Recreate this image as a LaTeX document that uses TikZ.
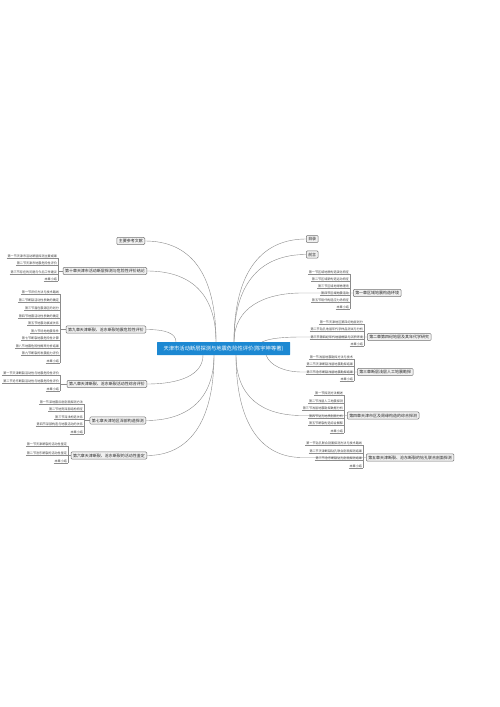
\documentclass[tikz,border=0pt]{standalone}
\usepackage{fontspec}
\newfontfamily\cjk{Noto Sans CJK SC}
\definecolor{rootblue}{RGB}{28,136,210}
\tikzset{
 conn/.style={draw=black!45, line width=0.4bp},
 branch/.style={draw=black!55, fill=black!6, rounded corners=1bp, line width=0.5bp, font=\cjk\fontsize{4}{4.5}\selectfont, text=black!85, inner xsep=2bp, inner ysep=1.7bp},
 leaf/.style={font=\cjk\fontsize{3.1}{3.5}\selectfont, text=black!75, inner xsep=0.8bp, inner ysep=0.5bp, anchor=south east},
 uline/.style={draw=black!45, line width=0.3bp},
 root/.style={fill=rootblue, text=white, font=\cjk\fontsize{5.3}{6}\selectfont, minimum width=133bp, minimum height=13bp, inner sep=0pt, rounded corners=0.5bp}
}
\begin{document}
\begin{tikzpicture}[x=1bp,y=-1bp]
\useasboundingbox (0,0) rectangle (500,707);
\fill[white] (0,0) rectangle (500,707);

% branch boxes
\node[branch, anchor=east] (bref) at (145,241) {主要参考文献};
\node[branch, anchor=east] (b10) at (147,271) {第十章天津市活动断层探测与危险性评价结论};
\node[branch, anchor=east] (b9) at (146,329.5) {第九章天津断裂、沧东断裂地震危险性评价};
\node[branch, anchor=east] (b8) at (147,384) {第八章天津断裂、沧东断裂活动性综合评价};
\node[branch, anchor=east] (b7) at (146,420.5) {第七章天津地区深部构造探测};
\node[branch, anchor=east] (b6) at (147,455.5) {第六章天津断裂、沧东断裂的活动性鉴定};
\node[branch, anchor=west] (bml) at (306,239) {目录};
\node[branch, anchor=west] (bqy) at (306,254.5) {前言};
\node[branch, anchor=west] (b1) at (353,293) {第一章区域地震构造环境};
\node[branch, anchor=west] (b2) at (367,337) {第二章第四纪地层及其年代学研究};
\node[branch, anchor=west] (b3) at (357,372) {第三章断层浅层人工地震勘探};
\node[branch, anchor=west] (b4) at (347,415.5) {第四章天津市区及周缘构造的综合探测};
\node[branch, anchor=west] (b5) at (366,457.5) {第五章天津断裂、沧东断裂的钻孔联合剖面探测};

% origins on the root
\coordinate (oL1) at (216,342);
\coordinate (oL2) at (176,342);
\coordinate (oL3) at (203,355);
\coordinate (oL4) at (214,355);
\coordinate (oR1) at (234,342);
\coordinate (oR2) at (262,342);
\coordinate (oR3) at (266,355);
\coordinate (oR4) at (236,355);
\coordinate (eR1) at (302,293);
\coordinate (eR2) at (302,337);
\coordinate (eR3) at (302,372);
\coordinate (eR4) at (302,415.5);
\coordinate (eR5) at (302,457.5);

% connectors from root
\draw[conn] (oL1) .. controls (216,271) and (189,241) .. (bref.east);
\draw[conn] (oL1) .. controls (216,292) and (189,271) .. (b10.east);
\draw[conn] (oL2) .. controls (176,333) and (165,329.5) .. (b9.east);
\draw[conn] (oL3) .. controls (203,375) and (180,384) .. (b8.east);
\draw[conn] (oL4) .. controls (214,400) and (187,420.5) .. (b7.east);
\draw[conn] (oL4) .. controls (214,425) and (187,455.5) .. (b6.east);
\draw[conn] (oR1) .. controls (234,270) and (263,239) .. (bml.west);
\draw[conn] (oR1) .. controls (234,280) and (263,254.5) .. (bqy.west);
\draw[conn] (oR1) .. controls (234,307) and (265,293) .. (eR1) -- (b1.west);
\draw[conn] (oR2) .. controls (270,338) and (285,337) .. (eR2) -- (b2.west);
\draw[conn] (oR3) .. controls (270,366) and (285,372) .. (eR3) -- (b3.west);
\draw[conn] (oR4) .. controls (236,397) and (262,415.5) .. (eR4) -- (b4.west);
\draw[conn] (oR4) .. controls (236,425) and (262,457.5) .. (eR5) -- (b5.west);

% root
\node[root] (root) at (223.5,348.5) {天津市活动断层探测与地震危险性评价(陈宇坤等著)};

% leaves: chapter 10
\foreach \y/\t [count=\i] in {258/第一节天津市活动断层探测主要成果, 265/第二节天津市地震危险性评价, 274/第三节存在的问题与今后工作建议, 281/本章小结}
  {\node[leaf] (g10-\i) at (58,\y) {\t}; \draw[uline] (g10-\i.south west) -- (g10-\i.south east);}
\draw[uline] (g10-1.south east) -- (g10-4.south east);
\draw[uline] (b10.west -| g10-1.south east) -- (b10.west);

% chapter 9
\foreach \y/\t [count=\i] in {294/第一节评价方法与技术路线, 302/第二节断裂活动性参数的确定, 310/第三节潜在震源区的划分, 318/第四节地震活动性参数的确定, 325/第五节地震动衰减关系, 333/第六节场地地震条件, 340/第七节断裂地震危险性计算, 348/第八节地震危险性概率分析结果, 355/第九节断裂的发震能力评价, 363/本章小结}
  {\node[leaf] (g9-\i) at (60,\y) {\t}; \draw[uline] (g9-\i.south west) -- (g9-\i.south east);}
\draw[uline] (g9-1.south east) -- (g9-10.south east);
\draw[uline] (b9.west -| g9-1.south east) -- (b9.west);

% chapter 8
\foreach \y/\t [count=\i] in {375/第一节天津断裂活动性与地震危险性评价, 383/第二节沧东断裂活动性与地震危险性评价, 391/本章小结}
  {\node[leaf] (g8-\i) at (60,\y) {\t}; \draw[uline] (g8-\i.south west) -- (g8-\i.south east);}
\draw[uline] (g8-1.south east) -- (g8-3.south east);
\draw[uline] (b8.west -| g8-1.south east) -- (b8.west);

% chapter 7
\foreach \y/\t [count=\i] in {404/第一节深地震反射剖面探测方法, 411/第二节地壳深部结构特征, 419/第三节深浅构造关系, 426/第四节深部构造与地震活动的关系, 434/本章小结}
  {\node[leaf] (g7-\i) at (84,\y) {\t}; \draw[uline] (g7-\i.south west) -- (g7-\i.south east);}
\draw[uline] (g7-1.south east) -- (g7-5.south east);
\draw[uline] (b7.west -| g7-1.south east) -- (b7.west);

% chapter 6
\foreach \y/\t [count=\i] in {446/第一节天津断裂的活动性鉴定, 455/第二节沧东断裂的活动性鉴定, 463/本章小结}
  {\node[leaf] (g6-\i) at (68,\y) {\t}; \draw[uline] (g6-\i.south west) -- (g6-\i.south east);}
\draw[uline] (g6-1.south east) -- (g6-3.south east);
\draw[uline] (b6.west -| g6-1.south east) -- (b6.west);

% chapter 1
\foreach \y/\t [count=\i] in {274/第一节区域地质构造演化特征, 281/第二节区域新构造运动特征, 288/第三节区域地球物理场, 295/第四节区域地震活动, 302/第五节现代构造应力场特征, 309/本章小结}
  {\node[leaf] (g1-\i) at (350,\y) {\t}; \draw[uline] (g1-\i.south west) -- (g1-\i.south east);}
\draw[uline] (g1-1.south east) -- (g1-6.south east);

% chapter 2
\foreach \y/\t [count=\i] in {324/第一节天津地区第四纪地层划分, 331/第二节钻孔地层年代学样品测试与分析, 339/第三节第四纪年代地层框架与沉积环境, 346/本章小结}
  {\node[leaf] (g2-\i) at (364,\y) {\t}; \draw[uline] (g2-\i.south west) -- (g2-\i.south east);}
\draw[uline] (g2-1.south east) -- (g2-4.south east);

% chapter 3
\foreach \y/\t [count=\i] in {359/第一节浅层地震勘探方法与技术, 366/第二节天津断裂浅层地震勘探结果, 374/第三节沧东断裂浅层地震勘探结果, 381/本章小结}
  {\node[leaf] (g3-\i) at (354,\y) {\t}; \draw[uline] (g3-\i.south west) -- (g3-\i.south east);}
\draw[uline] (g3-1.south east) -- (g3-4.south east);

% chapter 4
\foreach \y/\t [count=\i] in {395/第一节探测方法概述, 403/第二节浅层人工地震探测, 410/第三节浅层地震勘探数据分析, 418/第四节钻孔地质剖面分析, 425/第五节断裂构造综合解释, 433/本章小结}
  {\node[leaf] (g4-\i) at (344,\y) {\t}; \draw[uline] (g4-\i.south west) -- (g4-\i.south east);}
\draw[uline] (g4-1.south east) -- (g4-6.south east);

% chapter 5
\foreach \y/\t [count=\i] in {445/第一节钻孔联合剖面探测方法与技术路线, 453/第二节天津断裂钻孔联合剖面探测结果, 460/第三节沧东断裂钻孔剖面探测结果, 468/本章小结}
  {\node[leaf] (g5-\i) at (363,\y) {\t}; \draw[uline] (g5-\i.south west) -- (g5-\i.south east);}
\draw[uline] (g5-1.south east) -- (g5-4.south east);
\end{tikzpicture}
\end{document}
